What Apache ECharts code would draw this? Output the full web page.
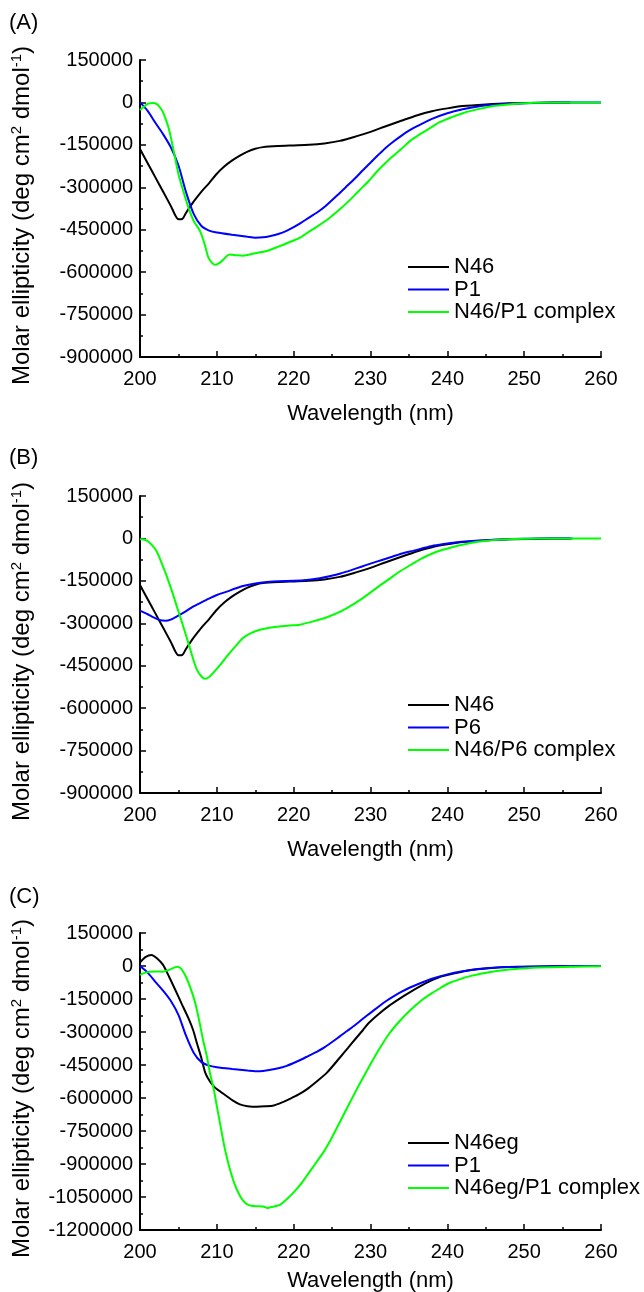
<!DOCTYPE html>
<html><head><meta charset="utf-8">
<script src="https://cdn.jsdelivr.net/npm/echarts@6/dist/echarts.min.js"></script>
<style>html,body{margin:0;padding:0;background:#fff}#c{width:644px;height:1292px}</style>
</head><body><div id="c"></div>
<script>
// ---------- data (wavelength nm / molar ellipticity) ----------
const panelLabels = ['(A)', '(B)', '(C)'];
const xTicks = [200, 210, 220, 230, 240, 250, 260];
const yMins = [-900000, -900000, -1200000];
const yMax = 150000;
const yStep = 150000;

// N46 (panels A and B)
const n46Nm  = [200, 201, 202, 203, 204, 205, 205.5, 206, 207, 208, 209, 210, 211, 212, 213, 214, 215, 216, 218, 220, 222, 224, 226, 228, 230, 232, 234, 236, 238, 240, 242, 245, 248, 252, 256];
const n46Val = [-165000, -215000, -265000, -315000, -365000, -413000, -412000, -390000, -350000, -315000, -285000, -252000, -226000, -205000, -188000, -174000, -164000, -158000, -154000, -152000, -150000, -145000, -136000, -121000, -104000, -84000, -65000, -46000, -31000, -21000, -13000, -7000, -3000, -1000, 0];

// P1 (panels A and C)
const p1Nm  = [200, 201, 202, 203, 204, 205, 206, 207, 208, 209, 210, 212, 214, 215, 216, 217, 218, 219, 220, 221, 222, 223, 224, 226, 227, 228, 229, 230, 231, 232, 233, 234, 235, 236, 238, 240, 242, 244, 246, 248, 250, 253, 256, 260];
const p1Val = [0, -30000, -72000, -112000, -158000, -222000, -318000, -395000, -437000, -453000, -460000, -468000, -475000, -478000, -477000, -472000, -465000, -455000, -441000, -425000, -407000, -390000, -370000, -320000, -294000, -268000, -240000, -213000, -186000, -160000, -138000, -118000, -100000, -85000, -58000, -38000, -24000, -14000, -8500, -5000, -3000, -1000, 0, 0];

// N46/P1 complex (panel A)
const cxA_Nm  = [200, 200.5, 201, 201.7, 202.2, 202.6, 203, 203.7, 204.3, 205, 205.6, 206.3, 207, 207.8, 208.4, 208.9, 209.4, 209.8, 210.3, 210.8, 211.3, 211.7, 212.5, 213.4, 215, 216.5, 218, 220, 221, 222, 223, 224.5, 226, 227.2, 228.5, 229.8, 231, 232.5, 234, 235.2, 236.3, 237.9, 239, 240.5, 242, 243.2, 245, 246, 248.6, 251.3, 255, 260];
const cxA_Val = [-27000, -15000, -5000, -2000, -6000, -18000, -35000, -88000, -160000, -253000, -310000, -371000, -420000, -454000, -500000, -548000, -568000, -574000, -568000, -557000, -543000, -538000, -540000, -542000, -533000, -525000, -510000, -488000, -475000, -457000, -440000, -412000, -378000, -348000, -312000, -277000, -240000, -200000, -165000, -135000, -115000, -88000, -70000, -53000, -38000, -29000, -18000, -13000, -5700, -1000, 0, 0];

// P6 (panel B)
const p6Nm  = [200, 201, 201.7, 202.5, 203.3, 204, 204.8, 206, 206.9, 208, 209.1, 210, 211.3, 212.4, 213.4, 215, 216.5, 218, 220, 222, 223.4, 224.8, 226.1, 227.5, 228.8, 230, 231.4, 232.8, 234.1, 235.5, 236.8, 238, 239.5, 241, 243.2, 245, 247, 250, 252, 256.3];
const p6Val = [-255000, -268000, -278000, -288000, -291000, -287000, -276000, -257000, -241000, -226000, -211000, -200000, -188000, -177000, -168000, -159000, -154000, -151000, -150000, -146000, -141000, -133000, -124000, -112000, -100000, -89000, -77000, -65000, -53000, -44000, -35000, -27000, -20000, -14000, -9000, -6000, -3500, -1000, 0, 0];

// N46/P6 complex (panel B)
const cxB_Nm  = [200, 200.5, 200.9, 201.5, 202.2, 203, 203.5, 204.2, 204.8, 205.5, 206.3, 206.9, 207.4, 208, 208.5, 209, 209.5, 210.4, 211.3, 212.3, 213.4, 214.5, 215.6, 217, 218.2, 219.5, 220.8, 222.3, 223.5, 224.5, 226, 227.2, 228.5, 229.8, 231.2, 232.5, 233.8, 235.2, 236.5, 237.9, 239.2, 240.5, 241.8, 243.2, 244.5, 245.9, 248.6, 252, 260];
const cxB_Val = [-3000, -4000, -8000, -22000, -47000, -100000, -135000, -190000, -241000, -300000, -370000, -425000, -464000, -488000, -496000, -490000, -476000, -448000, -417000, -385000, -352000, -334000, -323000, -315000, -311000, -308000, -305000, -295000, -286000, -277000, -260000, -242000, -220000, -195000, -167000, -142000, -117000, -94000, -73000, -55000, -42000, -32000, -23000, -15000, -10000, -6000, -2400, -500, 0];

// N46eg (panel C)
const n46egNm  = [200, 200.7, 201.5, 202.2, 203, 203.8, 204.6, 205.4, 206.3, 206.9, 207.4, 208, 208.5, 209.1, 209.8, 210.5, 211.3, 212.1, 213, 214, 215.2, 216.3, 217.4, 218.5, 219.5, 220.6, 221.7, 223, 224.3, 226, 227.1, 228, 229, 229.8, 231, 232.4, 233.8, 235.1, 236.5, 237.8, 239, 240.4, 241.8, 243.1, 245.8, 248, 251, 255, 260];
const n46egVal = [15000, 40000, 50000, 35000, 5000, -50000, -109000, -170000, -237000, -290000, -350000, -420000, -486000, -525000, -554000, -572000, -592000, -612000, -629000, -637000, -640000, -638000, -634000, -620000, -604000, -585000, -561000, -525000, -486000, -417000, -371000, -333000, -292000, -258000, -220000, -181000, -148000, -120000, -92000, -68000, -50000, -38000, -27000, -18000, -9000, -5000, -3000, -1000, 0];

// N46eg/P1 complex (panel C)
const cxC_Nm  = [200, 200.7, 201.3, 202, 203, 203.6, 204.1, 204.6, 204.9, 205.3, 205.6, 206, 206.5, 207, 207.4, 207.8, 208.2, 208.7, 209.1, 209.6, 210, 210.4, 210.8, 211.2, 211.7, 212.3, 213, 213.5, 213.9, 214.5, 215.2, 216, 216.6, 217, 217.6, 218.2, 219.1, 220, 220.9, 221.7, 222.8, 223.9, 225, 226, 227.1, 228.4, 229.8, 231.1, 232.4, 233.8, 235.1, 236.5, 237.8, 239.1, 240.4, 241.8, 243.1, 244.5, 245.8, 247, 248.4, 251.1, 256.4, 260];
const cxC_Val = [-40000, -30000, -26000, -25000, -26000, -20000, -13000, -5000, -3000, -10000, -25000, -50000, -94000, -145000, -199000, -265000, -335000, -410000, -486000, -560000, -637000, -712000, -788000, -855000, -924000, -990000, -1044000, -1070000, -1082000, -1090000, -1092000, -1093000, -1100000, -1096000, -1092000, -1086000, -1060000, -1029000, -993000, -954000, -900000, -845000, -778000, -710000, -635000, -548000, -459000, -380000, -309000, -250000, -203000, -160000, -128000, -100000, -75000, -58000, -45000, -34000, -26000, -20000, -15000, -7500, -3000, -1500];

const legendNames = [
  ['N46', 'P1', 'N46/P1 complex'],
  ['N46', 'P6', 'N46/P6 complex'],
  ['N46eg', 'P1', 'N46eg/P1 complex']
];

// ---------- chart ----------
const FONT = '"Liberation Sans", Arial, Helvetica, sans-serif';
const zip = (a, b) => a.map((v, i) => [v, b[i]]);
const tops = [60, 496, 933];
const xNameGaps = [46, 46, 40];
const legendTops = [256, 694, 1132];
const labelTops = [12, 447, 886];

const grids = tops.map(t => ({ left: 140, top: t, width: 461, height: 297, containLabel: false, outerBoundsMode: 'none' }));

const commonAxis = {
  axisLine: { show: true, onZero: false, lineStyle: { color: '#000', width: 2 } },
  axisTick: { show: true, inside: true, length: 6, lineStyle: { color: '#000', width: 1.5 } },
  minorTick: { show: true, splitNumber: 2, length: 3, lineStyle: { color: '#000', width: 1.5 } },
  splitLine: { show: false },
  minorSplitLine: { show: false }
};

const xAxes = tops.map((t, i) => Object.assign({}, commonAxis, {
  type: 'value', gridIndex: i, min: xTicks[0], max: xTicks[xTicks.length - 1], interval: 10,
  axisLabel: { fontSize: 20, color: '#000', fontFamily: FONT, margin: 12, formatter: v => String(v) },
  name: 'Wavelength (nm)', nameLocation: 'middle', nameGap: xNameGaps[i],
  nameTextStyle: { fontSize: 22, color: '#000', fontFamily: FONT }
}));

const yAxes = tops.map((t, i) => Object.assign({}, commonAxis, {
  type: 'value', gridIndex: i, min: yMins[i], max: yMax, interval: yStep,
  axisLabel: { fontSize: 20, color: '#000', fontFamily: FONT, margin: 7, formatter: v => String(v) },
  name: '{a|Molar ellipticity (deg cm}{s|2}{a| dmol}{s|-1}{a|)}',
  nameLocation: 'middle', nameGap: 104, nameRotate: 90,
  nameTextStyle: {
    color: '#000',
    padding: [0, 14, 0, 0],
    rich: {
      a: { fontSize: 24, fontFamily: FONT, color: '#000', lineHeight: 27 },
      s: { fontSize: 15, fontFamily: FONT, color: '#000', verticalAlign: 'top', lineHeight: 27 }
    }
  }
}));

function mk(name, idx, nm, val, color) {
  return {
    type: 'line', name: name, xAxisIndex: idx, yAxisIndex: idx,
    data: zip(nm, val), symbol: 'none', showSymbol: false, smooth: 0.25,
    lineStyle: { color: color, width: 2 }, itemStyle: { color: color }, z: 3
  };
}

const BLACK = '#000000', BLUE = '#0000ff', GREEN = '#00ff00';
const series = [
  mk('N46', 0, n46Nm, n46Val, BLACK),
  mk('P1', 0, p1Nm, p1Val, BLUE),
  mk('N46/P1 complex', 0, cxA_Nm, cxA_Val, GREEN),
  mk('N46', 1, n46Nm, n46Val, BLACK),
  mk('P6', 1, p6Nm, p6Val, BLUE),
  mk('N46/P6 complex', 1, cxB_Nm, cxB_Val, GREEN),
  mk('N46eg', 2, n46egNm, n46egVal, BLACK),
  mk('P1', 2, p1Nm, p1Val, BLUE),
  mk('N46eg/P1 complex', 2, cxC_Nm, cxC_Val, GREEN)
];

const legends = legendNames.map((names, i) => ({
  data: names, orient: 'vertical', left: 408, top: legendTops[i],
  icon: 'rect', itemWidth: 41, itemHeight: 2, itemGap: 0.5, padding: 0,
  selectedMode: false,
  textStyle: { fontSize: 22, color: '#000', fontFamily: FONT, lineHeight: 21, padding: [0, 0, 0, 0] }
}));

const titles = panelLabels.map((t, i) => ({
  text: t, left: 9, top: labelTops[i], padding: 0,
  textStyle: { fontSize: 22, fontWeight: 'normal', color: '#000', fontFamily: FONT }
}));

const chart = echarts.init(document.getElementById('c'), null, { renderer: 'canvas' });
chart.setOption({
  animation: false,
  backgroundColor: '#fff',
  title: titles,
  legend: legends,
  grid: grids,
  xAxis: xAxes,
  yAxis: yAxes,
  series: series
});
</script>
</body></html>
